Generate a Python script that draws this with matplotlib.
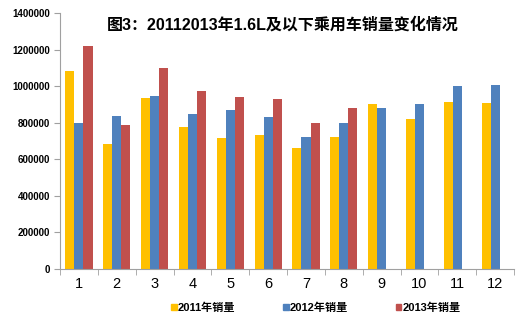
import numpy as np
import matplotlib.pyplot as plt
from matplotlib.patches import Patch

plt.rcParams['font.family'] = ['Liberation Sans', 'Noto Sans CJK SC', 'DejaVu Sans']

months = ['1', '2', '3', '4', '5', '6', '7', '8', '9', '10', '11', '12']
sales_2011 = [1082000, 684000, 937000, 778000, 718000, 735000, 660000, 722000, 904000, 822000, 913000, 908000]
sales_2012 = [800000, 837000, 944000, 846000, 868000, 831000, 722000, 797000, 882000, 902000, 1001000, 1005000]
sales_2013 = [1219000, 789000, 1101000, 975000, 941000, 928000, 800000, 882000]
series_names = ['2011年销量', '2012年销量', '2013年销量']
colors = ['#FFC000', '#4F81BD', '#C0504D']

fig = plt.figure(figsize=(5.23, 3.22), dpi=100)
ax = fig.add_axes([0.1147, 0.1646, 0.8683, 0.795])

x = np.arange(len(months))
w = 0.24
ax.bar(x - w, sales_2011, w, color=colors[0])
ax.bar(x, sales_2012, w, color=colors[1])
ax.bar(np.arange(len(sales_2013)) + w, sales_2013, w, color=colors[2])

ax.set_xlim(-0.5, len(months) - 0.5)
ax.set_ylim(0, 1400000)
ax.set_yticks(np.arange(0, 1400001, 200000))
ax.set_yticklabels([str(v) for v in range(0, 1400001, 200000)], fontsize=7, fontweight='bold')

# month labels centred, tick marks on the category boundaries
ax.set_xticks(x)
ax.set_xticklabels(months, fontsize=10.5)
ax.set_xticks(np.arange(-0.5, len(months)), minor=True)
ax.tick_params(axis='x', which='major', length=0, pad=6)
ax.tick_params(axis='x', which='minor', length=4, color='#A0A0A0', direction='out')
ax.tick_params(axis='y', length=4, color='#A0A0A0', direction='out', pad=3)

for side in ['top', 'right']:
    ax.spines[side].set_visible(False)
for side in ['left', 'bottom']:
    ax.spines[side].set_color('#A0A0A0')
    ax.spines[side].set_linewidth(0.8)

ax.text(0.49, 0.955, '图3：20112013年1.6L及以下乘用车销量变化情况', transform=ax.transAxes,
        ha='center', va='center', fontsize=11.5, fontweight='bold')

handles = [Patch(color=c) for c in colors]
leg = fig.legend(handles, series_names, loc='center', bbox_to_anchor=(0.604, 0.045), ncol=3,
                 frameon=False, fontsize=8, handlelength=0.5, handleheight=0.5,
                 handletextpad=0.1, columnspacing=4.3)
for t in leg.get_texts():
    t.set_fontweight('bold')

fig.savefig('out.png', dpi=100)
